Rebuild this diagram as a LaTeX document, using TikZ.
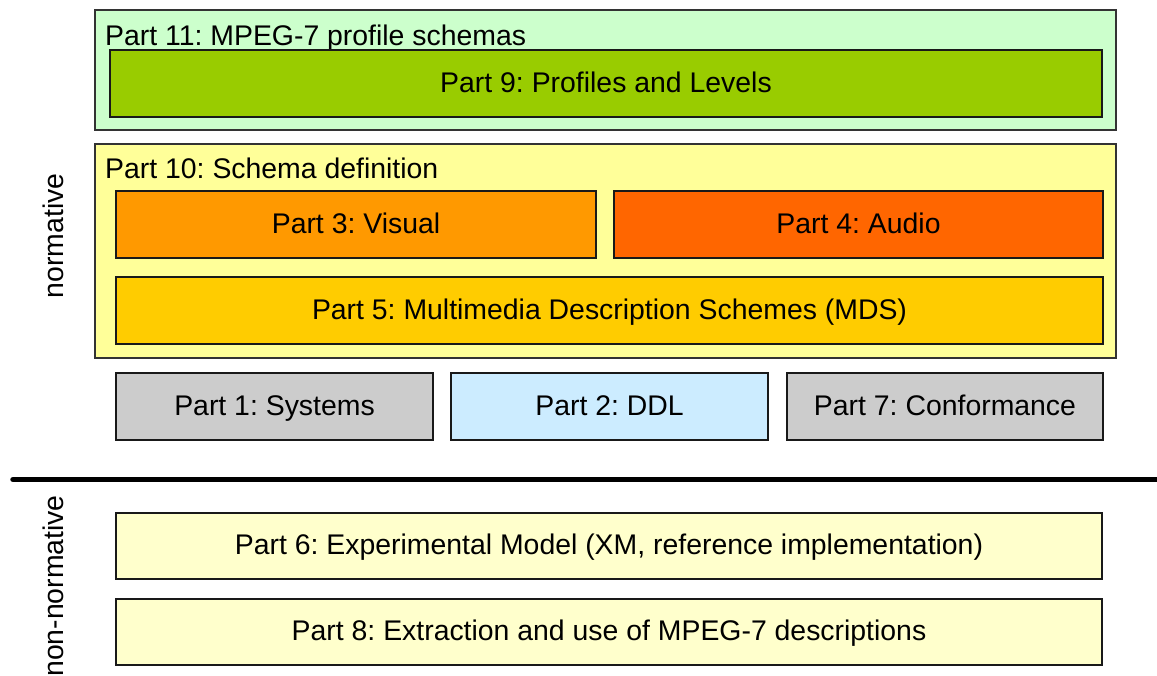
\documentclass[tikz,border=0pt]{standalone}
\usepackage{fontspec}
\setmainfont{Liberation Sans}
\frenchspacing
\definecolor{cGreenL}{HTML}{CCFFCC}
\definecolor{cGreen}{HTML}{99CC00}
\definecolor{cYellowL}{HTML}{FFFF99}
\definecolor{cOrange}{HTML}{FF9900}
\definecolor{cRed}{HTML}{FF6600}
\definecolor{cGold}{HTML}{FFCC00}
\definecolor{cGrey}{HTML}{CCCCCC}
\definecolor{cBlue}{HTML}{CCECFF}
\definecolor{cCream}{HTML}{FFFFCC}
\tikzset{
  outerbox/.style={draw=black!80, line width=1.3pt, rectangle, inner sep=0pt, outer sep=0pt},
  partbox/.style={draw=black!90, line width=1.6pt, rectangle, inner sep=0pt, outer sep=0pt,
    font=\fontsize{28.4}{34}\selectfont\frenchspacing, text height=19pt, text depth=1.4pt},
  lbl/.style={inner sep=0pt, font=\fontsize{28.4}{34}\selectfont\frenchspacing},
}
\begin{document}
\begin{tikzpicture}[x=1pt,y=-1pt]
\useasboundingbox (0,0) rectangle (1157,675);
% Part 11 container
\node[outerbox, fill=cGreenL, minimum width=1021pt, minimum height=120pt] (p11) at (605.5,70) {};
\node[lbl, anchor=base west] (p11t) at (105,45) {Part 11: MPEG-7 profile schemas};
\node[partbox, fill=cGreen, minimum width=992pt, minimum height=67pt] (p9) at (606,83.5) {Part 9: Profiles and Levels};
% Part 10 container
\node[outerbox, fill=cYellowL, minimum width=1021pt, minimum height=214pt] (p10) at (605.5,251) {};
\node[lbl, anchor=base west] (p10t) at (105,178) {Part 10: Schema definition};
\node[partbox, fill=cOrange, minimum width=480pt, minimum height=67pt] (p3) at (356,224.5) {Part 3: Visual};
\node[partbox, fill=cRed, minimum width=489pt, minimum height=67pt] (p4) at (858.5,224.5) {Part 4: Audio};
\node[partbox, fill=cGold, minimum width=987pt, minimum height=67pt] (p5) at (609.5,310.5) {Part 5: Multimedia Description Schemes (MDS)};
% Base parts
\node[partbox, fill=cGrey, minimum width=317pt, minimum height=67pt] (p1) at (274.5,406.5) {Part 1: Systems};
\node[partbox, fill=cBlue, minimum width=317pt, minimum height=67pt] (p2) at (609.5,406.5) {Part 2: DDL};
\node[partbox, fill=cGrey, minimum width=316pt, minimum height=67pt] (p7) at (945,406.5) {Part 7: Conformance};
% separator
\coordinate (sepL) at (13,479.5);
\coordinate (sepR) at (1160,479.5);
\draw[line width=5.5pt, line cap=round] (sepL) -- (sepR);
% non-normative parts
\node[partbox, fill=cCream, minimum width=986pt, minimum height=66pt] (p6) at (609,546) {Part 6: Experimental Model (XM, reference implementation)};
\node[partbox, fill=cCream, minimum width=986pt, minimum height=66pt] (p8) at (609,632) {Part 8: Extraction and use of MPEG-7 descriptions};
% side labels
\node[lbl, rotate=90, anchor=base] (norm) at (63,236) {normative};
\node[lbl, rotate=90, anchor=base] (nonnorm) at (63,586) {non-normative};
\end{tikzpicture}
\end{document}
